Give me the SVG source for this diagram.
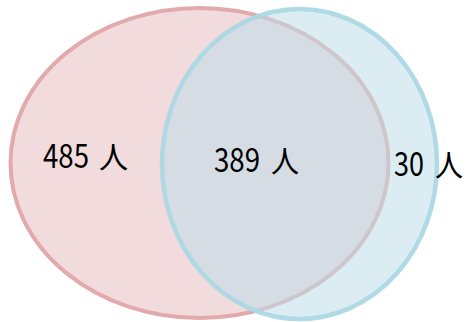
<svg xmlns="http://www.w3.org/2000/svg" width="467" height="322" viewBox="0 0 467 322">
<style>
.lbl{font-family:"Noto Sans CJK JP","Noto Sans",sans-serif;font-size:33px;fill:#000}
.kj{font-family:"Noto Sans CJK JP",sans-serif;font-size:30px;fill:#000}
</style>
<rect width="467" height="322" fill="#fff"/>
<g id="setA">
<ellipse cx="199.5" cy="163" rx="189" ry="155" fill="#f2dbdc" stroke="#e2aaad" stroke-width="4"/>
</g>
<g id="setB">
<ellipse cx="299.5" cy="164" rx="137.5" ry="155" fill="rgb(188,222,233)" fill-opacity="0.54" stroke="#acd8e4" stroke-width="4.5" stroke-opacity="0.95"/>
</g>
<g id="labels">
<text x="43" y="168"><tspan class="lbl" textLength="46" lengthAdjust="spacingAndGlyphs">485</tspan></text>
<text class="kj" x="99" y="168" textLength="29" lengthAdjust="spacingAndGlyphs">人</text>
<text x="214" y="172"><tspan class="lbl" textLength="46" lengthAdjust="spacingAndGlyphs">389</tspan></text>
<text class="kj" x="271" y="172" textLength="28" lengthAdjust="spacingAndGlyphs">人</text>
<text x="394" y="176"><tspan class="lbl" textLength="30" lengthAdjust="spacingAndGlyphs">30</tspan></text>
<text class="kj" x="435" y="176" textLength="28" lengthAdjust="spacingAndGlyphs">人</text>
</g>
</svg>
